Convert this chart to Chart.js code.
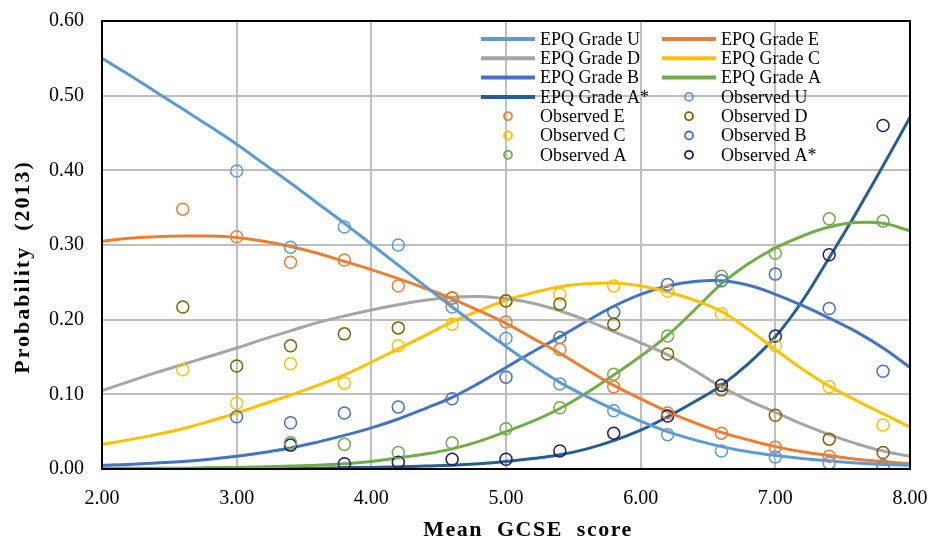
<!DOCTYPE html>
<html lang="en">
<head>
<meta charset="UTF-8">
<title>EPQ grade probability by mean GCSE score</title>
<script src="https://cdn.jsdelivr.net/npm/chart.js"></script>
<style>
  body { margin: 0; background: #fff; }
  canvas { display: block; }
</style>
</head>
<body>
<canvas id="chart" width="932" height="541"></canvas>
<script>
// model curves, every 0.2 GCSE points
const xGrid = [2.0, 2.2, 2.4, 2.6, 2.8, 3.0, 3.2, 3.4, 3.6, 3.8, 4.0, 4.2, 4.4, 4.6, 4.8, 5.0,
               5.2, 5.4, 5.6, 5.8, 6.0, 6.2, 6.4, 6.6, 6.8, 7.0, 7.2, 7.4, 7.6, 7.8, 8.0];
const gradeU = [0.550, 0.528, 0.505, 0.482, 0.459, 0.435, 0.409, 0.383, 0.356, 0.329, 0.301, 0.273, 0.245, 0.217, 0.190, 0.164,
                0.139, 0.116, 0.097, 0.080, 0.064, 0.050, 0.039, 0.030, 0.023, 0.018, 0.014, 0.011, 0.008, 0.006, 0.005];
const gradeE = [0.305, 0.309, 0.311, 0.312, 0.312, 0.310, 0.305, 0.298, 0.289, 0.278, 0.267, 0.255, 0.242, 0.228, 0.212, 0.195,
                0.175, 0.155, 0.133, 0.112, 0.094, 0.077, 0.062, 0.049, 0.039, 0.030, 0.023, 0.018, 0.013, 0.010, 0.007];
const gradeD = [0.105, 0.117, 0.129, 0.140, 0.151, 0.162, 0.174, 0.185, 0.196, 0.205, 0.213, 0.220, 0.226, 0.230, 0.231, 0.228,
                0.222, 0.212, 0.199, 0.184, 0.169, 0.153, 0.132, 0.110, 0.092, 0.076, 0.060, 0.046, 0.034, 0.024, 0.017];
const gradeC = [0.033, 0.039, 0.046, 0.054, 0.064, 0.075, 0.087, 0.099, 0.112, 0.126, 0.143, 0.161, 0.179, 0.197, 0.212, 0.226,
                0.236, 0.244, 0.248, 0.249, 0.245, 0.237, 0.226, 0.211, 0.187, 0.160, 0.134, 0.111, 0.092, 0.074, 0.056];
const gradeB = [0.005, 0.006, 0.008, 0.010, 0.013, 0.017, 0.022, 0.028, 0.036, 0.045, 0.055, 0.067, 0.081, 0.096, 0.115, 0.136,
                0.157, 0.177, 0.198, 0.218, 0.234, 0.245, 0.251, 0.252, 0.246, 0.234, 0.219, 0.202, 0.184, 0.162, 0.136];
const gradeA = [0.001, 0.001, 0.001, 0.001, 0.002, 0.002, 0.003, 0.004, 0.005, 0.007, 0.010, 0.015, 0.020, 0.027, 0.037, 0.050,
                0.064, 0.081, 0.102, 0.126, 0.151, 0.179, 0.213, 0.248, 0.275, 0.296, 0.312, 0.324, 0.330, 0.329, 0.319];
const gradeAStar = [0.000, 0.000, 0.000, 0.000, 0.001, 0.001, 0.001, 0.001, 0.001, 0.002, 0.002, 0.003, 0.004, 0.005, 0.007, 0.010,
                    0.014, 0.019, 0.027, 0.038, 0.052, 0.070, 0.090, 0.112, 0.141, 0.177, 0.225, 0.283, 0.343, 0.406, 0.471];

// observed proportions
const obsX = [2.6, 3.0, 3.4, 3.8, 4.2, 4.6, 5.0, 5.4, 5.8, 6.2, 6.6, 7.0, 7.4, 7.8];
const obsU = [null, 0.399, 0.297, 0.324, 0.300, 0.217, 0.175, 0.114, 0.078, 0.046, 0.024, 0.016, 0.008, 0.003];
const obsE = [0.348, 0.311, 0.277, 0.280, 0.245, 0.229, 0.197, 0.160, 0.110, 0.075, 0.048, 0.029, 0.017, 0.005];
const obsD = [0.217, 0.138, 0.165, 0.181, 0.189, 0.229, 0.225, 0.221, 0.194, 0.154, 0.106, 0.072, 0.040, 0.022];
const obsC = [0.133, 0.088, 0.141, 0.115, 0.165, 0.194, 0.226, 0.234, 0.245, 0.238, 0.208, 0.165, 0.110, 0.059];
const obsB = [null, 0.070, 0.062, 0.075, 0.083, 0.094, 0.123, 0.176, 0.210, 0.247, 0.252, 0.261, 0.215, 0.131];
const obsA = [null, null, 0.035, 0.033, 0.022, 0.035, 0.054, 0.082, 0.127, 0.178, 0.258, 0.289, 0.335, 0.332];
const obsAStar = [null, null, 0.032, 0.007, 0.009, 0.013, 0.013, 0.024, 0.048, 0.071, 0.112, 0.178, 0.287, 0.460];

const xTicks = [2, 3, 4, 5, 6, 7, 8];
const yTicks = [0, 0.1, 0.2, 0.3, 0.4, 0.5, 0.6];

const SERIF = "'Liberation Serif', 'Times New Roman', serif";

function pts(xs, ys) {
    return xs.map((x, i) => ({ x: x, y: ys[i] }));
}

function curve(label, ys, color) {
    return {
        label: label, data: pts(xGrid, ys), showLine: true,
        borderColor: color, backgroundColor: color, borderWidth: 3,
        pointRadius: 0, tension: 0.4, order: 2, kind: "line"
    };
}

function observed(label, ys, color) {
    return {
        label: label, data: pts(obsX, ys), showLine: false,
        borderColor: color, backgroundColor: "rgba(0,0,0,0)", borderWidth: 1.5,
        pointRadius: 6, pointHoverRadius: 6, order: 1, kind: "point"
    };
}

const datasets = [
    curve("EPQ Grade U", gradeU, "#5B9BD5"),
    curve("EPQ Grade E", gradeE, "#ED7D31"),
    curve("EPQ Grade D", gradeD, "#A5A5A5"),
    curve("EPQ Grade C", gradeC, "#FFC000"),
    curve("EPQ Grade B", gradeB, "#4472C4"),
    curve("EPQ Grade A", gradeA, "#70AD47"),
    curve("EPQ Grade A*", gradeAStar, "#255E91"),
    observed("Observed U", obsU, "#5B9BD5"),
    observed("Observed E", obsE, "#ED7D31"),
    observed("Observed D", obsD, "#7F6000"),
    observed("Observed C", obsC, "#FFC000"),
    observed("Observed B", obsB, "#4472C4"),
    observed("Observed A", obsA, "#70AD47"),
    observed("Observed A*", obsAStar, "#1F1A6E")
];

// legend, axis titles and the black frame, drawn on top
const extras = {
    id: "extras",
    afterDraw(chart) {
        const ctx = chart.ctx;
        const a = chart.chartArea;
        ctx.save();

        ctx.strokeStyle = "#000";
        ctx.lineWidth = 2;
        ctx.strokeRect(a.left, a.top, a.right - a.left, a.bottom - a.top);

        // two-column legend
        ctx.font = "18px " + SERIF;
        ctx.fillStyle = "#000";
        ctx.textBaseline = "middle";
        ctx.textAlign = "left";
        const cols = [481, 662];
        datasets.forEach((ds, i) => {
            const cx = cols[i % 2];
            const cy = 39 + Math.floor(i / 2) * 19.3;
            if (ds.kind === "line") {
                ctx.strokeStyle = ds.borderColor;
                ctx.lineWidth = 4;
                ctx.beginPath();
                ctx.moveTo(cx, cy);
                ctx.lineTo(cx + 54, cy);
                ctx.stroke();
            } else {
                ctx.strokeStyle = ds.borderColor;
                ctx.lineWidth = 1.8;
                ctx.beginPath();
                ctx.arc(cx + 27, cy, 4, 0, Math.PI * 2);
                ctx.stroke();
            }
            ctx.fillStyle = "#000";
            ctx.fillText(ds.label, cx + 59, cy + 1);
        });

        // axis titles
        ctx.font = "bold 22px " + SERIF;
        ctx.textAlign = "center";
        ctx.letterSpacing = "1.5px";
        ctx.fillText("Mean  GCSE  score", 528, 530);
        ctx.translate(23, 267);
        ctx.rotate(-Math.PI / 2);
        ctx.letterSpacing = "2px";
        ctx.fillText("Probability  (2013)", 0, 0);
        ctx.restore();
    }
};

new Chart(document.getElementById("chart"), {
    type: "scatter",
    data: { datasets: datasets },
    options: {
        responsive: false,
        animation: false,
        layout: { padding: { top: 21, right: 22, left: 0, bottom: 0 } },
        plugins: { legend: { display: false }, tooltip: { enabled: false } },
        scales: {
            x: {
                type: "linear", min: 2, max: 8,
                afterBuildTicks: s => { s.ticks = xTicks.map(v => ({ value: v })); },
                afterFit: s => { s.height = 72; s.paddingLeft = 0; s.paddingRight = 0; },
                ticks: {
                    callback: v => v.toFixed(2), color: "#000", padding: 18,
                    font: { family: SERIF, size: 20 }
                },
                grid: { color: "#BFBFBF", lineWidth: 2, drawTicks: false },
                border: { display: false }
            },
            y: {
                min: 0, max: 0.6,
                afterBuildTicks: s => { s.ticks = yTicks.map(v => ({ value: v })); },
                afterFit: s => { s.width = 102; s.paddingTop = 0; s.paddingBottom = 0; },
                ticks: {
                    callback: v => v.toFixed(2), color: "#000", padding: 18,
                    font: { family: SERIF, size: 20 }
                },
                grid: { color: "#BFBFBF", lineWidth: 2, drawTicks: false },
                border: { display: false }
            }
        }
    },
    plugins: [extras]
});
</script>
</body>
</html>
